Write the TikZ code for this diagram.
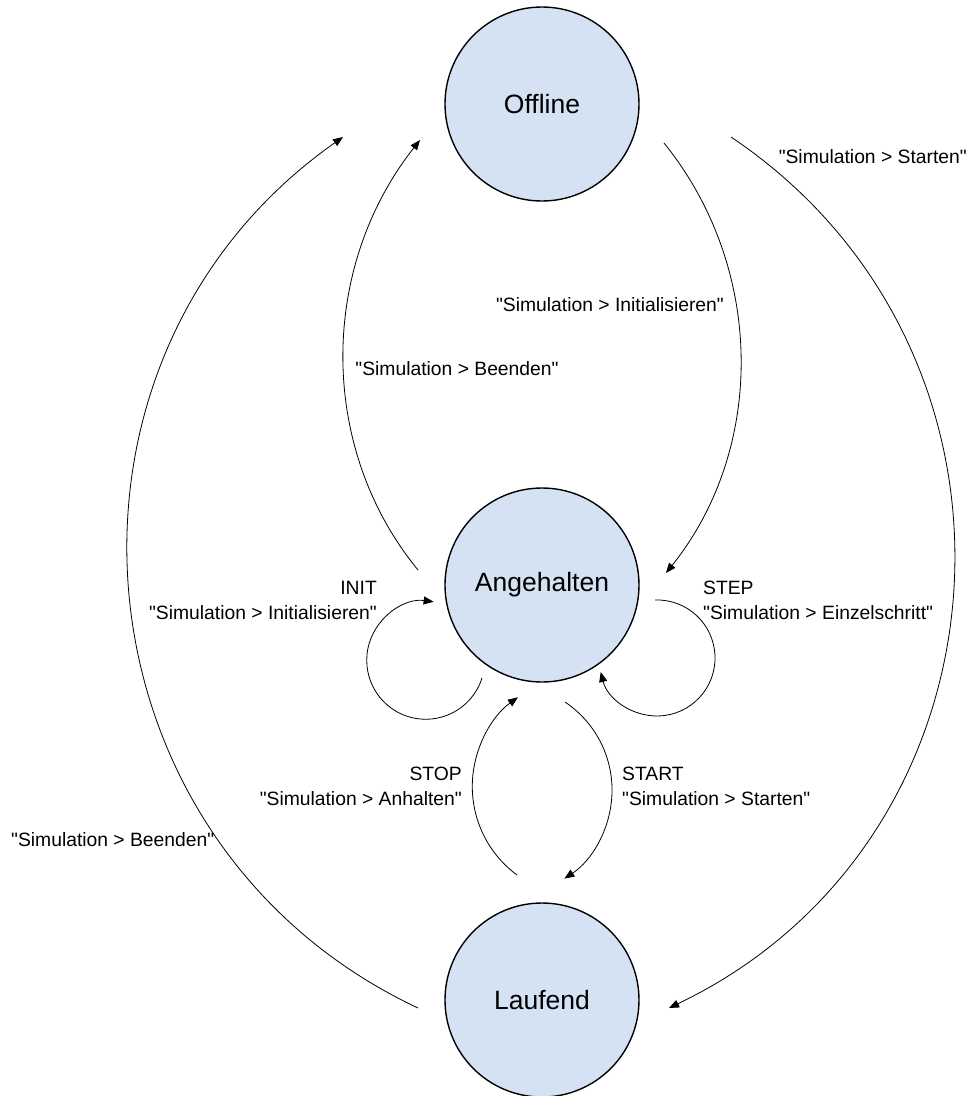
\documentclass[tikz,border=0pt]{standalone}
\usepackage{fontspec}
\setmainfont{Liberation Sans}
\newfontfamily\lsans{Liberation Sans}
\usetikzlibrary{arrows.meta,calc}
\definecolor{statefill}{RGB}{212,226,243}
\newcommand{\qtxt}[1]{\symbol{34}#1\symbol{34}}
\tikzset{
  state/.style={circle,draw=black,line width=1.4pt,fill=statefill,minimum size=194pt,inner sep=0pt,
    font=\lsans\fontsize{26.5pt}{30pt}\selectfont},
  conn/.style={line width=0.8pt,-{Triangle[length=10pt,width=8pt]}},
  lab/.style={inner sep=0pt,font=\lsans\fontsize{19.3pt}{25pt}\selectfont},
}
\begin{document}
\begin{tikzpicture}[x=1pt,y=1pt]
\useasboundingbox (0,0) rectangle (968,-1096);
\node[state] (off) at (542,-104) {Offline};
\node[state] (ang) at (542,-585) {Angehalten};
\node[state] (lau) at (542,-1000) {Laufend};

% big left: Laufend -> Offline
\draw[conn] ($(lau)+(-124,-8)$) .. controls (67,-843) and (26,-360) .. ($(off)+(-199,-33)$);
% Angehalten -> Offline
\draw[conn] ($(ang)+(-124,15)$) .. controls (318,-448) and (319,-268) .. ($(off)+(-122,-36)$);
% Offline -> Angehalten
\draw[conn] ($(off)+(122,-39)$) .. controls (765,-268) and (766,-448) .. ($(ang)+(124,12)$);
% Offline -> Laufend
\draw[conn] ($(off)+(189,-33)$) .. controls (1054,-354) and (1020,-840) .. ($(lau)+(127,-8)$);
% INIT loop
\draw[conn] ($(ang)+(-60,-93)$) arc[start angle=-17.5,end angle=-277.7,radius=59pt];
% STEP loop
\draw[conn] ($(ang)+(113,-15)$) arc[start angle=92,end angle=-166,radius=58pt];
% STOP
\draw[conn] ($(lau)+(-25,125)$) arc[start angle=233.6,end angle=125.8,radius=110pt];
% START
\draw[conn] ($(ang)+(23,-117)$) arc[start angle=56.2,end angle=-56.6,radius=106pt];

\node[lab,anchor=east] (l1) at (967,-157) {\qtxt{Simulation > Starten}};
\node[lab] (l2) at (610,-305) {\qtxt{Simulation > Initialisieren}};
\node[lab] (l3) at (457,-369) {\qtxt{Simulation > Beenden}};
\node[lab,anchor=east,align=right] (l4) at (377,-600) {INIT\\\qtxt{Simulation > Initialisieren}};
\node[lab,anchor=west,align=left] (l5) at (703,-600) {STEP\\\qtxt{Simulation > Einzelschritt}};
\node[lab,anchor=east,align=right] (l6) at (462,-786) {STOP\\\qtxt{Simulation > Anhalten}};
\node[lab,anchor=west,align=left] (l7) at (622,-786) {START\\\qtxt{Simulation > Starten}};
\node[lab,anchor=west] (l8) at (11,-840) {\qtxt{Simulation > Beenden}};
\end{tikzpicture}
\end{document}
